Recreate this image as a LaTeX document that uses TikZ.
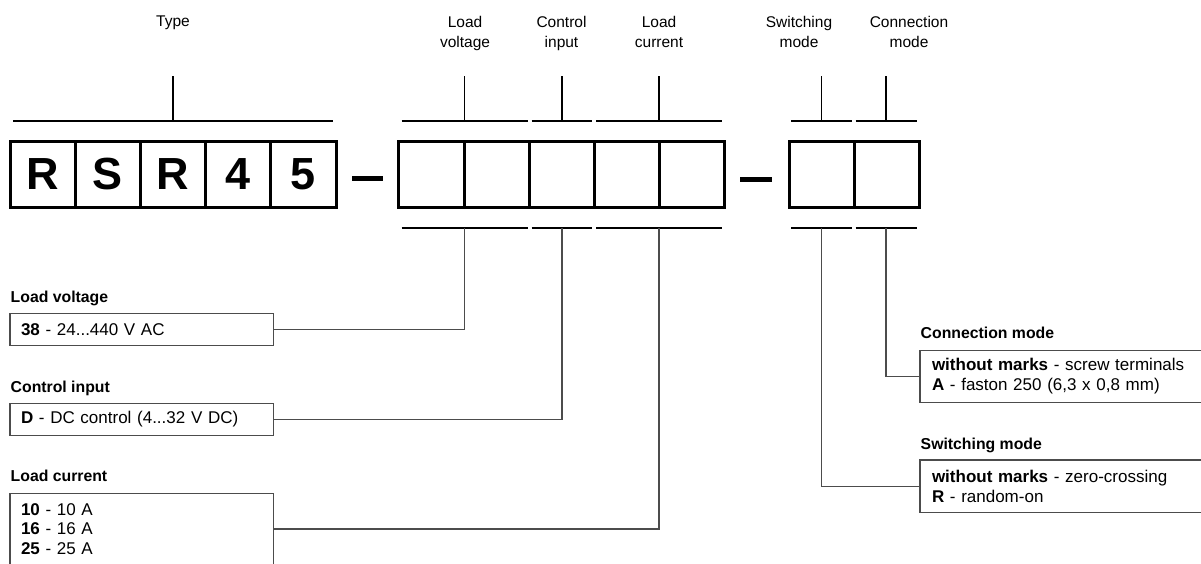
\documentclass[tikz,border=0pt]{standalone}
\usepackage{fontspec}
\setmainfont{Liberation Sans}
\begin{document}
\begin{tikzpicture}[x=1pt,y=-1pt,
  cell/.style={draw=black, line width=3pt, minimum width=65.1pt, minimum height=66.3pt,
    inner sep=0pt, outer sep=0pt, font=\fontsize{45}{45}\selectfont\bfseries},
  toplabel/.style={align=center, font=\fontsize{15.5}{20}\selectfont, inner sep=0pt, anchor=north},
  title/.style={font=\fontsize{15.8}{18}\selectfont\bfseries, inner sep=0pt, anchor=base west},
  infobox/.style={draw=black!70, line width=1.3pt, align=left, inner xsep=11pt, inner ysep=0pt,
    anchor=north west, outer sep=0pt, font=\fontsize{17}{20}\selectfont},
  bar/.style={line width=2.2pt},
  tickline/.style={line width=1.5pt},
  link/.style={draw=black!70, line width=1.3pt},
  sepdash/.style={line width=5pt}
]
\useasboundingbox (0,0) rectangle (1201,563);
\clip (0,0) rectangle (1201,563);

% top labels
\node[toplabel] (lT)  at (173,15.6) {Type};
\node[toplabel] (lLV) at (465,15.6) {Load\\voltage};
\node[toplabel] (lCI) at (561.5,15.6) {Control\\input};
\node[toplabel] (lLC) at (659,15.6) {Load\\current};
\node[toplabel] (lSM) at (799,15.6) {Switching\\mode};
\node[toplabel] (lCM) at (909,15.6) {Connection\\mode};

% cells
\node[cell, minimum width=65.2pt] (c1) at (42.6,174.4) {R};
\node[cell, minimum width=65.2pt] (c2) at (107.8,174.4) {S};
\node[cell, minimum width=65.2pt] (c3) at (173,174.4) {R};
\node[cell, minimum width=65.2pt] (c4) at (238.2,174.4) {4};
\node[cell, minimum width=65.2pt] (c5) at (303.4,174.4) {5};

\node[cell] (d1) at (431.5,174.4) {};
\node[cell] (d2) at (496.6,174.4) {};
\node[cell] (d3) at (561.7,174.4) {};
\node[cell] (d4) at (626.8,174.4) {};
\node[cell] (d5) at (691.9,174.4) {};

\node[cell, minimum width=65pt] (e1) at (821.5,174.4) {};
\node[cell, minimum width=65pt] (e2) at (886.5,174.4) {};

% dashes
\draw[sepdash] (352,178) -- (383,178);
\draw[sepdash] (740,179) -- (772,179);

% top bars and ticks
\draw[bar] (13,121) -- (333,121);
\draw[tickline] (173,76) -- (173,121);
\draw[bar] (401.7,121) -- (527.7,121);
\draw[tickline] (464.5,76) -- (464.5,121);
\draw[bar] (531.7,121) -- (592.3,121);
\draw[tickline] (562,76) -- (562,121);
\draw[bar] (596,121) -- (722.3,121);
\draw[tickline] (659,76) -- (659,121);
\draw[bar] (791,121) -- (851.7,121);
\draw[tickline] (821.5,76) -- (821.5,121);
\draw[bar] (855.7,121) -- (916.7,121);
\draw[tickline] (886,76) -- (886,121);

% bottom bars
\draw[bar] (401.7,228) -- (527.7,228);
\draw[bar] (531.7,228) -- (592.3,228);
\draw[bar] (596,228) -- (722.3,228);
\draw[bar] (791,228) -- (851.7,228);
\draw[bar] (855.7,228) -- (916.7,228);
\coordinate (mLV) at (464.5,228);
\coordinate (mCI) at (562,228);
\coordinate (mLC) at (659,228);
\coordinate (mSM) at (821.5,228);
\coordinate (mCM) at (886,228);

% left info boxes
\node[title] (tLV) at (10.5,302.5) {Load voltage};
\node[infobox, text width=241.3pt, minimum height=32.2pt] (bLV) at (10,313.3)
  {\textbf{38} - 24...440 V AC};
\node[title] (tCI) at (10.5,392.5) {Control input};
\node[infobox, text width=241.3pt, minimum height=32pt] (bCI) at (10,403.3)
  {\textbf{D} - DC control (4...32 V DC)};
\node[title] (tLC) at (10.5,481.5) {Load current};
\node[infobox, text width=241.3pt, minimum height=71.4pt, font=\fontsize{17}{19.3}\selectfont] (bLC) at (10,493.3)
  {\textbf{10} - 10 A\\\textbf{16} - 16 A\\\textbf{25} - 25 A};

% right info boxes
\node[title] (tCM) at (920.5,338.5) {Connection mode};
\node[infobox, inner xsep=12pt, text width=270pt, minimum height=51.6pt] (bCM) at (920,350.7)
  {\textbf{without marks} - screw terminals\\\textbf{A} - faston 250 (6,3 x 0,8 mm)};
\node[title] (tSM) at (920.5,449) {Switching mode};
\node[infobox, inner xsep=12pt, text width=270pt, minimum height=52.7pt] (bSM) at (920,460)
  {\textbf{without marks} - zero-crossing\\\textbf{R} - random-on};

% connectors
\draw[link] (mLV) |- (bLV.east);
\draw[link] (mCI) |- (bCI.east);
\draw[link] (mLC) |- (bLC.east);
\draw[link] (mSM) |- (bSM.west);
\draw[link] (mCM) |- (bCM.west);
\end{tikzpicture}
\end{document}
